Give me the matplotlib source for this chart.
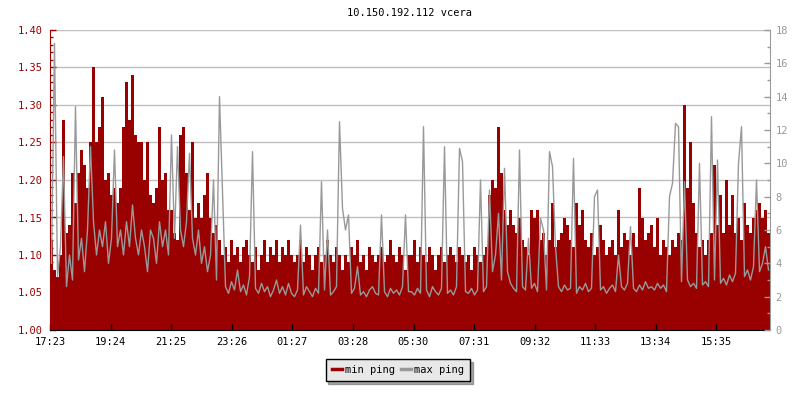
import matplotlib
matplotlib.use("Agg")
import matplotlib.pyplot as plt
from matplotlib.ticker import MultipleLocator
import numpy as np

# ping summary, one sample every 6 minutes starting 17:23
step_min = 6
min_ping = [
    1.12, 1.08, 1.07, 1.10, 1.28, 1.13, 1.14, 1.21, 1.17, 1.21, 1.24, 1.22, 1.19, 1.25, 1.35, 1.25, 1.27, 1.31, 1.20, 1.21,
    1.18, 1.19, 1.17, 1.19, 1.27, 1.33, 1.28, 1.34, 1.26, 1.25, 1.25, 1.20, 1.25, 1.18, 1.17, 1.19, 1.27, 1.20, 1.21, 1.16,
    1.16, 1.13, 1.12, 1.26, 1.27, 1.21, 1.16, 1.25, 1.15, 1.17, 1.15, 1.18, 1.21, 1.15, 1.13, 1.14, 1.12, 1.10, 1.11, 1.09,
    1.12, 1.10, 1.11, 1.09, 1.11, 1.12, 1.10, 1.09, 1.11, 1.08, 1.10, 1.12, 1.09, 1.11, 1.10, 1.12, 1.09, 1.11, 1.10, 1.12,
    1.10, 1.09, 1.10, 1.12, 1.09, 1.11, 1.10, 1.08, 1.10, 1.11, 1.09, 1.10, 1.12, 1.10, 1.09, 1.11, 1.10, 1.08, 1.10, 1.09,
    1.11, 1.10, 1.12, 1.09, 1.10, 1.08, 1.11, 1.10, 1.09, 1.10, 1.11, 1.09, 1.10, 1.12, 1.10, 1.09, 1.11, 1.10, 1.08, 1.10,
    1.10, 1.12, 1.09, 1.11, 1.10, 1.09, 1.11, 1.10, 1.08, 1.10, 1.11, 1.09, 1.10, 1.11, 1.10, 1.09, 1.11, 1.10, 1.09, 1.10,
    1.08, 1.11, 1.10, 1.09, 1.10, 1.11, 1.18, 1.20, 1.19, 1.27, 1.21, 1.16, 1.14, 1.16, 1.14, 1.13, 1.15, 1.12, 1.11, 1.10,
    1.16, 1.15, 1.16, 1.12, 1.13, 1.10, 1.12, 1.17, 1.11, 1.12, 1.13, 1.15, 1.14, 1.12, 1.11, 1.17, 1.14, 1.16, 1.12, 1.11,
    1.13, 1.10, 1.11, 1.14, 1.12, 1.10, 1.11, 1.12, 1.10, 1.16, 1.11, 1.13, 1.12, 1.10, 1.13, 1.11, 1.19, 1.15, 1.12, 1.13,
    1.14, 1.11, 1.15, 1.10, 1.12, 1.11, 1.10, 1.12, 1.11, 1.13, 1.12, 1.30, 1.19, 1.25, 1.17, 1.13, 1.11, 1.12, 1.10, 1.12,
    1.13, 1.22, 1.14, 1.18, 1.13, 1.20, 1.14, 1.18, 1.13, 1.15, 1.12, 1.17, 1.14, 1.13, 1.15, 1.16, 1.17, 1.15, 1.16, 1.13,
]
max_ping = [
    4.0, 17.2, 3.2, 5.0, 10.4, 2.6, 4.5, 3.0, 13.4, 4.2, 5.5, 3.5, 6.0, 11.0, 6.5, 4.5, 6.0, 5.0, 6.5, 4.0,
    5.5, 10.8, 5.0, 6.0, 4.5, 6.5, 5.0, 7.5, 5.5, 4.5, 6.0, 5.0, 3.5, 6.0, 5.5, 4.0, 6.5, 5.0, 6.0, 4.5,
    11.7, 5.5, 11.0, 6.0, 5.0, 6.5, 10.6, 5.5, 4.5, 6.0, 4.0, 5.0, 3.5, 4.5, 9.0, 3.0, 14.0, 8.2, 2.6, 2.2,
    2.9, 2.4, 3.6, 2.3, 2.7, 2.1, 3.2, 10.7, 2.5, 2.2, 2.8, 2.3, 2.6, 2.0, 2.4, 3.0, 2.2, 2.6, 2.1, 2.8,
    2.2, 2.0, 2.4, 6.3, 2.1, 2.6, 2.3, 2.0, 2.5, 2.2, 8.9, 2.4, 6.0, 2.1, 2.3, 2.6, 12.5, 7.3, 6.0, 6.9,
    2.2, 2.5, 3.8, 2.1, 2.3, 2.0, 2.4, 2.6, 2.2, 2.1, 6.9, 2.3, 2.0, 2.5, 2.2, 2.4, 2.1, 2.6, 6.9, 2.3,
    2.3, 2.1, 2.5, 2.2, 12.2, 2.4, 2.0, 2.6, 2.3, 2.1, 2.5, 11.0, 2.2, 2.4, 2.1, 2.6, 10.9, 10.1, 2.3, 2.2,
    2.5, 2.1, 2.4, 9.0, 2.3, 2.6, 8.4, 3.5, 4.5, 7.0, 3.0, 9.7, 3.5, 2.8, 2.5, 2.3, 10.8, 2.6, 2.4, 5.5,
    2.5, 2.8, 2.3, 6.7, 6.0, 2.4, 10.7, 9.8, 5.0, 2.6, 2.3, 2.7, 2.4, 2.5, 10.3, 2.2, 2.6, 2.4, 2.8, 2.3,
    2.5, 8.0, 8.4, 2.4, 2.6, 2.2, 2.5, 2.7, 2.3, 4.5, 2.6, 2.4, 2.8, 6.2, 2.5, 2.3, 2.7, 2.4, 2.9, 2.5,
    2.6, 2.4, 2.8, 2.5, 2.7, 2.3, 8.0, 8.8, 12.4, 12.2, 2.9, 8.9, 3.0, 2.6, 2.8, 2.5, 10.0, 2.7, 2.9, 2.6,
    12.8, 3.0, 10.2, 2.8, 3.1, 2.7, 3.3, 2.9, 3.4, 10.0, 12.2, 3.2, 3.6, 3.0, 3.8, 9.0, 3.5, 4.0, 5.0, 3.6,
]
tick_labels = ["17:23", "19:24", "21:25", "23:26", "01:27", "03:28",
               "05:30", "07:31", "09:32", "11:33", "13:34", "15:35"]

RED = "#990000"
GRAY = "#999999"
FONT = "DejaVu Sans Mono"
FS = 7.5

t = np.arange(len(min_ping)) * step_min
mins = np.array(min_ping)
maxs = np.array(max_ping)

# tick positions = minutes after 17:23
def minutes_after_start(lbl):
    h, m = map(int, lbl.split(":"))
    d = (h * 60 + m) - (17 * 60 + 23)
    return d % 1440

tick_pos = [minutes_after_start(l) for l in tick_labels]

fig = plt.figure(figsize=(8, 4), dpi=100)
ax = fig.add_axes([50 / 800, 70 / 400, 720 / 800, 300 / 400])
ax2 = ax.twinx()

for v in np.arange(1.05, 1.401, 0.05):
    ax.axhline(v, color="#c0c0c0", lw=1, zorder=0)

ax.bar(t, mins - 1.0, bottom=1.0, width=step_min, align="edge",
       color=RED, linewidth=0, zorder=1, label="min ping")
ax2.plot(t + step_min / 2, maxs, color=GRAY, lw=1, label="max ping")

ax.set_xlim(0, len(min_ping) * step_min)
ax.set_ylim(1.0, 1.4)
ax2.set_ylim(0, 18)

ax.set_xticks(tick_pos)
ax.set_xticklabels(tick_labels, fontfamily=FONT, fontsize=FS)
ax.yaxis.set_major_locator(MultipleLocator(0.05))
ax.yaxis.set_minor_locator(MultipleLocator(0.01))
ax.set_yticklabels([f"{v:.2f}" for v in ax.get_yticks()], fontfamily=FONT, fontsize=FS)
ax2.yaxis.set_major_locator(MultipleLocator(2))
ax2.yaxis.set_minor_locator(MultipleLocator(1))
ax2.set_yticklabels([f"{v:g}" for v in ax2.get_yticks()], fontfamily=FONT, fontsize=FS)

ax.tick_params(axis="x", direction="in", length=4, width=1, color="black", pad=5)
ax.tick_params(axis="y", which="major", direction="in", length=4, width=1,
               color=RED, labelcolor=RED, pad=5)
ax.tick_params(axis="y", which="minor", direction="in", length=2.5, width=1, color=RED)
ax2.tick_params(axis="y", which="major", direction="in", length=4, width=1,
                color=GRAY, labelcolor=GRAY, pad=4)
ax2.tick_params(axis="y", which="minor", direction="in", length=2.5, width=1, color=GRAY)

for a in (ax, ax2):
    a.spines["top"].set_visible(False)
ax.spines["left"].set_color(RED)
ax.spines["right"].set_visible(False)
ax2.spines["left"].set_visible(False)
ax2.spines["right"].set_color(GRAY)
ax2.spines["bottom"].set_visible(False)
ax.spines["bottom"].set_color("black")

fig.text(410 / 800, 1 - 13 / 400, "10.150.192.112 vcera", ha="center", va="center",
         fontfamily=FONT, fontsize=FS)

handles = [plt.Line2D([], [], color=RED, lw=2.5), plt.Line2D([], [], color=GRAY, lw=2.5)]
leg = fig.legend(handles, ["min ping", "max ping"], loc="center",
                 bbox_to_anchor=(398 / 800, 1 - 370 / 400), ncol=2,
                 prop={"family": FONT, "size": FS}, frameon=True, fancybox=False,
                 shadow={"color": "#555555"}, framealpha=1, handlelength=1.0,
                 handletextpad=0.3, columnspacing=0.5, borderpad=0.6)
leg.get_frame().set_edgecolor("black")
leg.get_frame().set_facecolor("#e8e8e8")
leg.get_frame().set_linewidth(1)

fig.savefig("out.png", dpi=100)
